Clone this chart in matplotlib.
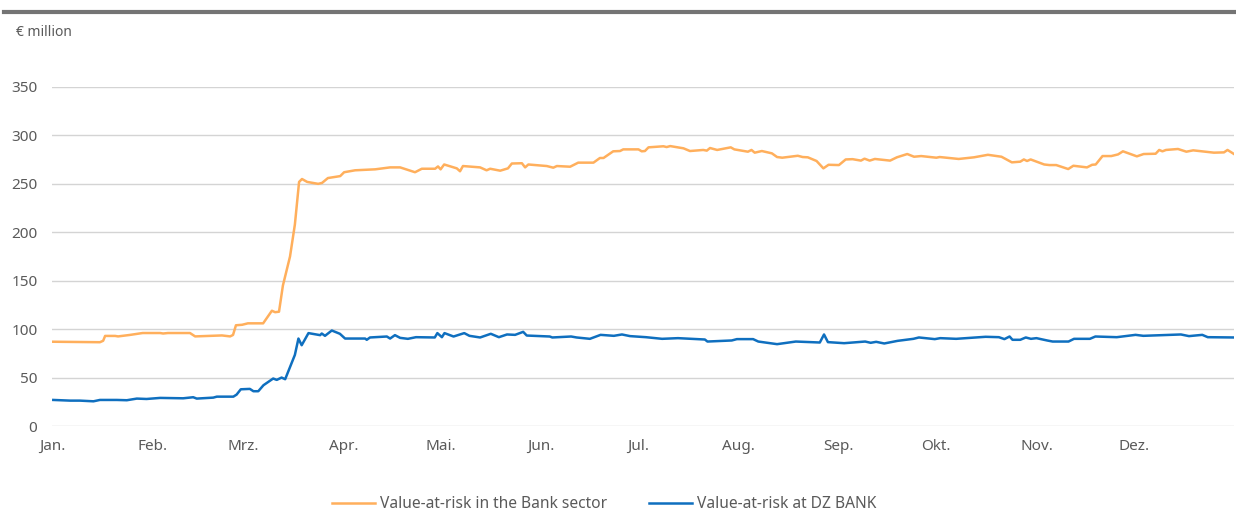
#!/usr/bin/env python3
import matplotlib
matplotlib.use("Agg")
import matplotlib.pyplot as plt
from matplotlib.lines import Line2D

plt.rcParams['font.family'] = ['Noto Sans', 'DejaVu Sans']

# day of year -> VaR (EUR million)
bank_days = [0.3, 14.8, 15.8, 16.4, 19.5, 20.4, 24, 28, 33.4, 34.3, 35.8, 42.6, 44.2, 48.8, 52.5, 55,
             55.9, 56.8, 58.7, 60.5, 65.2, 67.9, 68.9, 70.1, 71.3, 73.5, 75, 76.3, 77.2, 78.8, 82.2,
             83.4, 85.2, 89, 90.2, 93.6, 99.8, 104.4, 107.5, 112.1, 114.2, 118.3, 119.2, 120, 121.1,
             125, 126, 126.9, 132.2, 134.2, 135.3, 138.4, 140.8, 142, 145.1, 146.1, 147.1, 152.8,
             154.8, 155.9, 160, 162.5, 167.2, 169.2, 170.3, 173.3, 175.4, 176.4, 181.1, 182.1, 183.1,
             184.2, 188.8, 189.8, 190.9, 195, 197, 201.1, 202.2, 203.2, 205.4, 209.6, 210.7, 214.9,
             216, 217, 219.2, 222.3, 223.9, 225.5, 230.3, 231.8, 233.4, 236.1, 238.2, 239.8, 243,
             245.1, 247.2, 249.8, 250.9, 252.5, 254.1, 258.8, 260.9, 264.1, 266.2, 268.4, 273.1,
             274.1, 280, 284.7, 289, 293.2, 296.4, 299, 300.1, 301.1, 302.2, 306.4, 308, 310.1,
             313.8, 315.4, 319.6, 321.2, 322.3, 324.4, 327.1, 329.2, 330.7, 335, 337.1, 340.8,
             341.9, 342.9, 344, 347.7, 350.3, 352.4, 358.8, 361.9, 363, 365]
bank_var = [87, 86.5, 88, 93, 93, 92.5, 94, 96, 96, 95.5, 96, 96, 92.5, 93, 93.5, 92.5,
            94, 104, 104.5, 106, 106, 119, 117.5, 118, 145, 175, 208, 252, 255, 252, 250,
            251, 256, 258, 262, 264, 265, 267, 267, 262, 265.6, 265.6, 268, 265, 270,
            266, 263, 268.4, 267, 264, 265.6, 263.6, 266, 271, 271.3, 267, 270, 268.4,
            266.7, 268.4, 267.7, 271.9, 271.9, 276.7, 276.7, 283.6, 283.9, 285.6, 285.6, 283.6, 283.9,
            287.7, 288.8, 288, 289, 286.7, 283.9, 285, 284.3, 287, 285, 287.7, 285.6, 283.2,
            285, 282.2, 283.9, 281.5, 277.7, 277, 279, 277.7, 277.4, 273.6, 266, 269.7, 269.4,
            275.2, 275.5, 274, 276, 274, 275.7, 274, 277.4, 280.8, 278, 278.7, 277,
            277.7, 275.7, 277.4, 280, 278, 272.2, 272.9, 275.2, 273.6, 275.2, 270, 269.4, 269.4,
            265.3, 268.7, 267, 269.7, 270, 278.7, 278.7, 280.4, 283.6, 278.4, 280.8, 281.1,
            285, 283.6, 285, 286, 283.2, 284.6, 282.2, 282.5, 285, 280.8]

dz_days = [0.4, 5.6, 8.6, 12.8, 14.8, 20, 23.1, 26.2, 29.2, 33.4, 40.5, 43.6, 44.7, 49.8, 50.9, 56,
           57, 58.3, 61.1, 62.2, 63.7, 65.3, 68.3, 69.4, 70.9, 72, 75, 76.1, 77.1, 79.2, 82.8,
           83.3, 84.3, 86.4, 88.9, 90.5, 96.7, 97.2, 98.2, 103.4, 104.4, 105.9, 107.5, 109.9,
           112.4, 118.2, 119, 120.4, 121.2, 124, 127.3, 128.9, 132.2, 135.5, 138, 140.5, 143,
           145.5, 146.6, 153.7, 154.5, 160.3, 162, 166.1, 169.4, 173.5, 176, 178.5, 183.4, 188.4,
           193.3, 201.6, 202.4, 209.9, 211.5, 216.5, 218.1, 223.9, 229.7, 237.1, 238.4, 239.6,
           244.6, 251.1, 252.8, 254.5, 257, 261.1, 266, 267.7, 272.6, 274.3, 279.2, 288.3, 292.4,
           294.1, 295.7, 296.6, 299, 300.7, 302.3, 304, 307.3, 309, 313.9, 315.6, 320.5, 322.2,
           328.8, 334.6, 337, 348.6, 351.1, 355.2, 356.9, 365]
dz_var = [26.9, 26.2, 26.2, 25.5, 26.9, 26.9, 26.6, 28.3, 27.9, 29, 28.6, 29.7, 28.3, 29.3, 30.3, 30.3,
          32.4, 37.9, 38.3, 35.9, 35.9, 42.1, 49, 47.6, 50, 48.3, 73.4, 90.3, 83.4, 95.9, 93.8,
          95.5, 93.1, 98.6, 95.2, 90.3, 90.3, 89, 91.4, 92.4, 90.3, 93.8, 91, 90,
          91.7, 91.4, 95.9, 91.7, 95.9, 92.4, 95.9, 93.1, 91.4, 95.2, 91.7, 94.5, 94.1,
          97.2, 93.4, 92.4, 91.4, 92.4, 91.4, 90, 94.1, 93.1, 94.5, 92.8, 91.7, 90,
          90.7, 89.3, 87.2, 88.3, 89.7, 89.7, 87.2, 84.5, 87.2, 86.2, 94.5, 86.6,
          85.5, 87.2, 85.9, 86.9, 85.2, 87.9, 90, 91.4, 89.7, 90.7, 90, 92.1, 91.7,
          89.7, 92.4, 89, 89, 91.4, 90, 90.7, 88.3, 87.2, 87.2, 90, 90, 92.4,
          91.7, 94.1, 93.1, 94.5, 92.8, 94.1, 91.7, 91.4]

month_starts = [0, 31, 59, 90, 120, 151, 181, 212, 243, 273, 304, 334]
month_labels = ["Jan.", "Feb.", "Mrz.", "Apr.", "Mai.", "Jun.", "Jul.", "Aug.", "Sep.", "Okt.", "Nov.", "Dez."]
y_ticks = [0, 50, 100, 150, 200, 250, 300, 350]

orange = "#FFAF5C"
blue = "#0F6FBF"
txt = "#5a5a5a"

fig = plt.figure(figsize=(12.36, 5.31), dpi=100)
ax = fig.add_axes([52/1236, 1-426/531, (1234-52)/1236, (426-87)/531])

ax.plot(bank_days, bank_var, color=orange, lw=1.8, solid_joinstyle='round')
ax.plot(dz_days, dz_var, color=blue, lw=1.8, solid_joinstyle='round')

ax.set_xlim(0, 365)
ax.set_ylim(0, 350)
ax.set_yticks(y_ticks)
ax.set_xticks(month_starts)
ax.set_xticklabels(month_labels)
ax.grid(axis='y', color='#d4d4d4', lw=1)
ax.set_axisbelow(True)
for s in ax.spines.values():
    s.set_visible(False)
ax.tick_params(length=0, labelsize=11, colors=txt)
ax.tick_params(axis='y', pad=10.5)
ax.tick_params(axis='x', pad=9)

fig.text(16/1236, 1-32/531, "€ million", fontsize=10, color=txt, va='center')
fig.add_artist(Line2D([4/1236, 1], [1-12/531, 1-12/531], color='#747474', lw=3))

handles = [Line2D([], [], color=orange, lw=1.8), Line2D([], [], color=blue, lw=1.8)]
fig.legend(handles, ["Value-at-risk in the Bank sector", "Value-at-risk at DZ BANK"],
           loc='center', bbox_to_anchor=(604/1236, 1-504/531), ncol=2, frameon=False,
           fontsize=11.2, labelcolor=txt, handlelength=2.8, handletextpad=0.3, columnspacing=2.7)

fig.savefig("out.png", dpi=100)
